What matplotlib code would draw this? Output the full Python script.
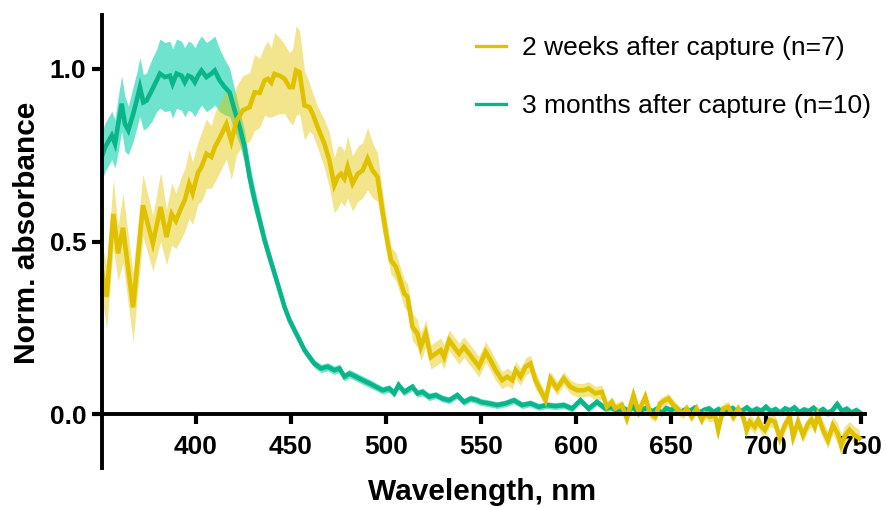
import numpy as np
import matplotlib.pyplot as plt

# 2 weeks after capture (n=7): wavelength, mean, SEM
wl_2w = [350.5, 353.1, 356.6, 359.1, 361.7, 367.0, 372.2, 377.4, 381.5, 384.6,
         387.3, 389.5, 392.5, 394.2, 396.5, 398.3, 401.2, 403.0, 405.6, 408.2,
         410.0, 412.6, 416.1, 418.7, 421.4, 424.8, 428.3, 431.0, 433.6, 436.2,
         437.9, 439.7, 441.4, 444.1, 446.7, 449.3, 451.0, 452.8, 454.6, 457.2,
         459.8, 461.5, 464.2, 467.7, 470.3, 472.9, 474.7, 476.4, 478.2, 479.9,
         482.5, 485.2, 487.8, 490.4, 493.0, 495.6, 497.4, 500.1, 502.7, 505.3,
         507.0, 509.7, 511.4, 514.0, 516.6, 518.4, 521.0, 523.7, 526.3, 528.9,
         530.6, 533.3, 535.9, 538.5, 541.1, 543.8, 546.4, 549.0, 552.5, 555.1,
         557.8, 561.2, 563.9, 566.5, 568.3, 570.9, 573.5, 576.1, 578.7, 581.4,
         584.0, 586.6, 590.1, 593.6, 597.1, 600.6, 604.1, 606.7, 610.2, 613.7,
         616.3, 618.9, 620.7, 624.2, 626.8, 630.3, 633.0, 636.5, 639.1, 641.7,
         644.3, 647.0, 648.7, 651.3, 653.9, 656.6, 658.3, 660.9, 663.5, 666.2,
         667.9, 670.6, 673.2, 674.9, 677.5, 680.2, 682.8, 685.4, 688.0, 689.8,
         691.5, 694.1, 695.9, 697.6, 699.4, 702.0, 704.7, 707.3, 709.9, 712.5,
         714.3, 716.9, 719.5, 722.2, 723.9, 725.7, 727.3, 730.0, 732.6, 735.2,
         737.8, 739.6, 741.3, 744.0, 746.6, 749.2]
mean_2w = [0.42, 0.34, 0.58, 0.466, 0.54, 0.31, 0.605, 0.495, 0.60, 0.513,
           0.58, 0.56, 0.60, 0.62, 0.667, 0.64, 0.70, 0.716, 0.754, 0.745,
           0.773, 0.80, 0.84, 0.79, 0.85, 0.88, 0.889, 0.932, 0.93, 0.966,
           0.971, 0.96, 0.985, 0.98, 0.971, 0.947, 0.947, 0.995, 0.99, 0.894,
           0.889, 0.87, 0.83, 0.783, 0.735, 0.663, 0.687, 0.696, 0.682, 0.716,
           0.668, 0.696, 0.706, 0.74, 0.706, 0.687, 0.62, 0.523, 0.446, 0.427,
           0.398, 0.35, 0.34, 0.253, 0.234, 0.195, 0.234, 0.166, 0.176, 0.186,
           0.166, 0.215, 0.195, 0.176, 0.195, 0.176, 0.157, 0.138, 0.181, 0.157,
           0.128, 0.099, 0.109, 0.099, 0.128, 0.109, 0.138, 0.147, 0.099, 0.07,
           0.041, 0.104, 0.075, 0.104, 0.08, 0.07, 0.07, 0.075, 0.061, 0.065,
           0.022, 0.036, 0.017, 0.027, -0.012, 0.056, 0.008, 0.051, 0.003, -0.007,
           0.032, 0.041, 0.046, 0.027, 0.012, 0.003, 0.017, -0.007, 0.017, -0.016,
           0.003, -0.007, -0.002, -0.045, 0.017, 0.022, -0.007, 0.017, -0.007, -0.045,
           -0.021, -0.036, -0.016, -0.036, -0.045, -0.016, -0.021, -0.069, -0.031, -0.007,
           -0.065, -0.021, -0.06, -0.026, -0.016, -0.036, -0.002, -0.045, -0.074, -0.031,
           -0.055, -0.089, -0.065, -0.045, -0.06, -0.069]
sem_2w = [0.08, 0.09, 0.10, 0.08, 0.10, 0.10, 0.09, 0.08, 0.10, 0.08,
          0.09, 0.08, 0.09, 0.09, 0.10, 0.09, 0.09, 0.10, 0.10, 0.09,
          0.10, 0.10, 0.10, 0.11, 0.10, 0.10, 0.10, 0.11, 0.10, 0.10,
          0.11, 0.10, 0.12, 0.11, 0.10, 0.10, 0.11, 0.13, 0.12, 0.10,
          0.07, 0.06, 0.06, 0.07, 0.08, 0.08, 0.09, 0.08, 0.08, 0.09,
          0.08, 0.08, 0.08, 0.09, 0.08, 0.07, 0.06, 0.05, 0.04, 0.04,
          0.04, 0.04, 0.04, 0.04, 0.04, 0.04, 0.04, 0.035, 0.035, 0.035,
          0.035, 0.03, 0.03, 0.03, 0.03, 0.03, 0.03, 0.03, 0.03, 0.03,
          0.03, 0.025, 0.025, 0.025, 0.025, 0.025, 0.025, 0.025, 0.025, 0.02,
          0.02, 0.02, 0.02, 0.02, 0.02, 0.02, 0.02, 0.02, 0.02, 0.02,
          0.015, 0.015, 0.015, 0.015, 0.015, 0.015, 0.015, 0.015, 0.015, 0.015,
          0.015, 0.015, 0.015, 0.015, 0.015, 0.015, 0.015, 0.015, 0.015, 0.015,
          0.015, 0.015, 0.015, 0.015, 0.015, 0.015, 0.015, 0.015, 0.015, 0.02,
          0.02, 0.02, 0.02, 0.02, 0.02, 0.02, 0.02, 0.02, 0.02, 0.02,
          0.02, 0.02, 0.02, 0.02, 0.02, 0.02, 0.02, 0.025, 0.025, 0.025,
          0.03, 0.03, 0.03, 0.025, 0.025, 0.025]

# 3 months after capture (n=10)
wl_3m = [350.5, 352.3, 354.0, 355.8, 357.5, 359.2, 361.0, 362.7, 364.5, 367.1,
         368.9, 370.6, 372.4, 374.1, 376.8, 379.4, 381.1, 383.7, 386.4, 387.8,
         389.9, 392.5, 394.2, 396.0, 397.7, 399.5, 401.2, 403.0, 405.6, 408.2,
         410.0, 412.6, 415.2, 417.8, 420.5, 423.1, 425.7, 428.3, 431.0, 433.6,
         436.2, 438.8, 441.4, 444.1, 446.7, 449.3, 451.9, 454.6, 457.2, 459.8,
         462.4, 465.9, 469.4, 472.9, 475.6, 478.2, 480.8, 484.3, 487.8, 491.3,
         494.8, 498.3, 501.8, 504.4, 506.7, 509.7, 514.0, 516.6, 519.3, 522.8,
         526.3, 529.8, 533.3, 537.6, 541.1, 544.6, 548.1, 549.9, 554.2, 558.6,
         563.0, 567.4, 571.7, 576.1, 580.5, 584.8, 589.2, 593.6, 598.0, 602.4,
         606.7, 611.1, 615.5, 618.9,
         620.0, 622.5, 625.0, 627.5, 630.0, 632.5, 635.0, 637.5, 640.0, 642.5,
         645.0, 647.5, 650.0, 652.5, 655.0, 657.5, 660.0, 662.5, 665.0, 667.5,
         670.0, 672.5, 675.0, 677.5, 680.0, 682.5, 685.0, 687.5, 690.0, 692.5,
         695.0, 697.5, 700.0, 702.5, 705.0, 707.5, 710.0, 712.5, 715.0, 717.5,
         720.0, 722.5, 725.0, 727.5, 730.0, 732.5, 735.0, 737.5, 740.0, 742.5,
         745.0, 747.5, 750.0]
mean_3m = [0.745, 0.773, 0.79, 0.807, 0.783, 0.841, 0.899, 0.841, 0.822, 0.87,
           0.908, 0.947, 0.903, 0.908, 0.937, 0.966, 0.986, 0.976, 0.98, 0.957,
           0.986, 0.98, 0.961, 0.98, 0.976, 0.961, 0.98, 0.995, 0.976, 0.986,
           0.995, 0.966, 0.947, 0.932, 0.879, 0.831, 0.773, 0.687, 0.619, 0.562,
           0.504, 0.455, 0.408, 0.359, 0.311, 0.273, 0.244, 0.215, 0.186, 0.166,
           0.147, 0.133, 0.138, 0.128, 0.133, 0.109, 0.118, 0.109, 0.099, 0.09,
           0.08, 0.07, 0.075, 0.061, 0.085, 0.065, 0.08, 0.061, 0.065, 0.051,
           0.056, 0.046, 0.041, 0.056, 0.036, 0.046, 0.041, 0.036, 0.032, 0.027,
           0.032, 0.041, 0.027, 0.032, 0.022, 0.027, 0.024, 0.027, 0.017, 0.041,
           0.017, 0.036, 0.017, 0.022,
           0.015, 0.008, 0.018, 0.01, 0.022, 0.006, 0.014, 0.02, 0.008, 0.016,
           0.004, 0.018, 0.012, 0.02, 0.006, 0.014, 0.01, 0.019, 0.005, 0.013,
           0.017, 0.007, 0.015, 0.004, 0.012, 0.018, 0.006, 0.011, 0.02, 0.008,
           0.016, 0.01, 0.022, 0.009, 0.015, 0.005, 0.017, 0.011, 0.02, 0.006,
           0.014, 0.009, 0.019, 0.007, 0.015, 0.004, 0.012, 0.03, 0.01, 0.016,
           0.005, 0.012, 0.003]
sem_3m = [0.07, 0.07, 0.07, 0.07, 0.07, 0.08, 0.08, 0.08, 0.07, 0.08,
          0.08, 0.085, 0.08, 0.08, 0.09, 0.09, 0.10, 0.10, 0.10, 0.10,
          0.10, 0.10, 0.10, 0.10, 0.10, 0.10, 0.10, 0.10, 0.10, 0.10,
          0.10, 0.09, 0.08, 0.07, 0.06, 0.05, 0.045, 0.04, 0.035, 0.03,
          0.025, 0.022, 0.02, 0.018, 0.016, 0.015, 0.014, 0.013, 0.012, 0.012,
          0.012, 0.012, 0.012, 0.012, 0.012, 0.012, 0.012, 0.012, 0.012, 0.012,
          0.011, 0.011, 0.011, 0.011, 0.011, 0.011, 0.011, 0.011, 0.011, 0.011,
          0.01, 0.01, 0.01, 0.01, 0.01, 0.01, 0.01, 0.01, 0.01, 0.01,
          0.01, 0.01, 0.01, 0.01, 0.01, 0.01, 0.01, 0.01, 0.01, 0.01,
          0.01, 0.01, 0.01, 0.01,
          0.01, 0.01, 0.01, 0.01, 0.01, 0.01, 0.01, 0.01, 0.01, 0.01,
          0.01, 0.01, 0.01, 0.01, 0.01, 0.01, 0.01, 0.01, 0.01, 0.01,
          0.01, 0.01, 0.01, 0.01, 0.01, 0.01, 0.01, 0.01, 0.01, 0.01,
          0.01, 0.01, 0.01, 0.01, 0.01, 0.01, 0.01, 0.01, 0.01, 0.01,
          0.01, 0.01, 0.01, 0.01, 0.01, 0.01, 0.01, 0.01, 0.01, 0.01,
          0.01, 0.01, 0.01]

labels = ["2 weeks after capture (n=7)", "3 months after capture (n=10)"]
x_ticks = [400, 450, 500, 550, 600, 650, 700, 750]
y_ticks = [0.0, 0.5, 1.0]

yellow, yellow_fill = "#DFC100", "#E3C600"
green, green_fill = "#0BB58A", "#3DDBC0"

plt.rcParams["font.family"] = ["Liberation Sans", "DejaVu Sans"]

fig = plt.figure(figsize=(8.86, 5.07), dpi=100)
ax = fig.add_axes([0.1148, 0.0769, 0.8612, 0.8931])

w2, m2, s2 = np.array(wl_2w), np.array(mean_2w), np.array(sem_2w)
w3, m3, s3 = np.array(wl_3m), np.array(mean_3m), np.array(sem_3m)

ax.fill_between(w3, m3 - s3, m3 + s3, color=green_fill, alpha=0.75, lw=0)
ax.fill_between(w2, m2 - s2, m2 + s2, color=yellow_fill, alpha=0.45, lw=0)
ax.plot(w3, m3, color=green, lw=3.3, label=labels[1], solid_joinstyle="miter")
ax.plot(w2, m2, color=yellow, lw=3.3, label=labels[0], solid_joinstyle="miter")

ax.set_xlim(350.5, 752)
ax.set_ylim(-0.155, 1.155)
ax.set_xticks(x_ticks)
ax.set_yticks(y_ticks)
ax.set_yticklabels([f"{v:.1f}" for v in y_ticks])

for s in ["top", "right"]:
    ax.spines[s].set_visible(False)
ax.spines["bottom"].set_position(("data", 0))
for s in ["left", "bottom"]:
    ax.spines[s].set_linewidth(2.8)
ax.tick_params(axis="both", length=7.5, width=3, labelsize=19)
ax.tick_params(axis="x", pad=7)
ax.tick_params(axis="y", pad=3.5)
for t in ax.get_xticklabels() + ax.get_yticklabels():
    t.set_fontweight("bold")

fig.text(0.544, 0.0138, "Wavelength, nm", fontsize=21.5, fontweight="bold",
         ha="center", va="baseline")
fig.text(35 / 886, 0.540, "Norm. absorbance", fontsize=21.5, fontweight="bold",
         rotation=90, rotation_mode="anchor", ha="center", va="baseline")

h, l = ax.get_legend_handles_labels()
leg = ax.legend(h[::-1], l[::-1], loc="upper left", bbox_to_anchor=(476 / 886, 0.929),
                bbox_transform=fig.transFigure, frameon=False, fontsize=19,
                borderpad=0, borderaxespad=0, handlelength=1.14,
                handletextpad=0.6, labelspacing=1.3)
for ln in leg.get_lines():
    ln.set_linewidth(2.4)

fig.savefig("out.png", dpi=100)
